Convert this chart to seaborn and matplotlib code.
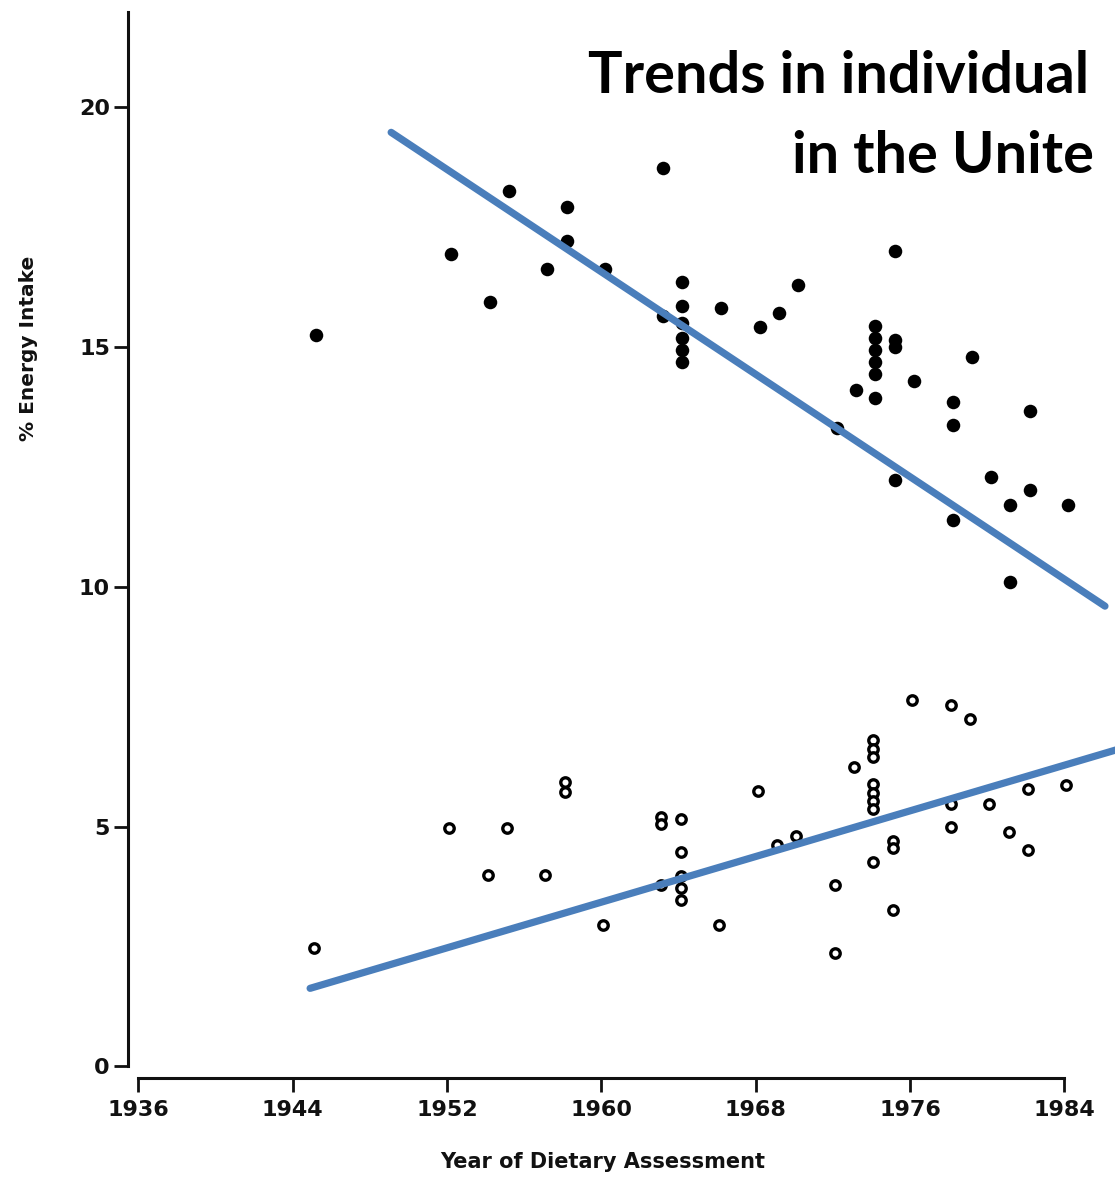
import matplotlib
matplotlib.use("Agg")
import matplotlib.pyplot as plt
import seaborn as sns
import pandas as pd

# ---- data ----
sat_year = [1945.2, 1952.2, 1954.2, 1955.2, 1957.2, 1958.2, 1958.2, 1960.2,
            1963.2, 1963.2,
            1964.2, 1964.2, 1964.2, 1964.2, 1964.2, 1964.2,
            1966.2, 1968.2, 1969.2, 1970.2, 1972.2, 1973.2,
            1974.2, 1974.2, 1974.2, 1974.2, 1974.2, 1974.2,
            1975.2, 1975.2, 1975.2, 1975.2,
            1976.2, 1978.2, 1978.2, 1978.2, 1979.2, 1980.2,
            1981.2, 1981.2, 1982.2, 1982.2, 1984.2]
sat_pct = [15.26, 16.95, 15.95, 18.25, 16.64, 17.93, 17.22, 16.62,
           18.73, 15.64,
           16.35, 15.85, 15.50, 15.20, 14.95, 14.70,
           15.82, 15.43, 15.72, 16.30, 13.32, 14.11,
           15.45, 15.20, 14.95, 14.70, 14.45, 13.95,
           17.01, 15.15, 15.00, 12.23,
           14.30, 13.86, 13.38, 11.40, 14.80, 12.30,
           11.71, 10.10, 13.67, 12.03, 11.71]

poly_year = [1945.1, 1952.1, 1954.1, 1955.1, 1957.1, 1958.1, 1958.1, 1960.1,
             1963.1, 1963.1, 1963.1,
             1964.1, 1964.1, 1964.1, 1964.1, 1964.1,
             1966.1, 1968.1, 1969.1, 1970.1, 1972.1, 1972.1, 1973.1,
             1974.1, 1974.1, 1974.1, 1974.1, 1974.1, 1974.1, 1974.1, 1974.1,
             1975.1, 1975.1, 1975.1,
             1976.1, 1978.1, 1978.1, 1978.1, 1979.1, 1980.1, 1981.1,
             1982.1, 1982.1, 1984.1]
poly_pct = [2.48, 4.97, 3.99, 4.97, 3.99, 5.94, 5.73, 2.96,
            5.20, 5.05, 3.78,
            5.16, 4.47, 3.98, 3.72, 3.47,
            2.96, 5.74, 4.61, 4.80, 3.78, 2.36, 6.24,
            6.80, 6.62, 6.45, 5.89, 5.71, 5.53, 5.36, 4.27,
            4.70, 4.55, 3.26,
            7.64, 7.54, 5.47, 4.99, 7.24, 5.47, 4.89,
            5.79, 4.52, 5.87]

trend_sat_year = [1949.1, 1986.1]
trend_sat_pct = [19.48, 9.60]
trend_poly_year = [1944.9, 1987.5]
trend_poly_pct = [1.63, 6.70]

x_ticks = [1936, 1944, 1952, 1960, 1968, 1976, 1984]
y_ticks = [0, 5, 10, 15, 20]

title_line1 = "Trends in individual"
title_line2 = "in the Unite"

# ---- figure ----
sns.set_theme(style="white")
plt.rcParams['font.family'] = ['DejaVu Sans']

fig = plt.figure(figsize=(11.15, 11.78), dpi=100)
ax = fig.add_axes([128 / 1115, 1 - 1078 / 1178, 987 / 1115, 1078 / 1178])

sat_df = pd.DataFrame({"year": sat_year, "pct": sat_pct})
poly_df = pd.DataFrame({"year": poly_year, "pct": poly_pct})

sns.scatterplot(data=sat_df, x="year", y="pct", ax=ax, color="black",
                s=95, linewidth=0, zorder=3)
sns.scatterplot(data=poly_df, x="year", y="pct", ax=ax, facecolor="white",
                edgecolor="black", s=46, linewidth=2.4, zorder=3)

sns.lineplot(x=trend_sat_year, y=trend_sat_pct, ax=ax, color="#4a7ebb",
             linewidth=5.2, zorder=4)
sns.lineplot(x=trend_poly_year, y=trend_poly_pct, ax=ax, color="#4a7ebb",
             linewidth=5.2, zorder=4)

ax.set_xlim(1935.46, 1986.62)
ax.set_ylim(-0.24, 22.24)

for side in ["top", "right"]:
    ax.spines[side].set_visible(False)
ax.spines["left"].set_bounds(0, 22)
ax.spines["bottom"].set_bounds(1936, 1984)
for side in ["left", "bottom"]:
    ax.spines[side].set_color("#111111")
    ax.spines[side].set_linewidth(2.2)

ax.set_xticks(x_ticks)
ax.set_yticks(y_ticks)
ax.set_xticklabels([str(t) for t in x_ticks])
ax.set_yticklabels([str(t) for t in y_ticks])
ax.tick_params(axis="both", direction="out", length=10, width=2,
               color="#111111", labelsize=16, labelcolor="#111111")
ax.tick_params(axis="x", pad=6, bottom=True)
ax.tick_params(axis="y", pad=3, left=True)
for lab in ax.get_xticklabels() + ax.get_yticklabels():
    lab.set_fontweight("bold")

ax.set_xlabel("Year of Dietary Assessment", fontsize=15, fontweight="bold",
              color="#111111")
ax.set_ylabel("% Energy Intake", fontsize=14.5, fontweight="bold",
              color="#111111")
ax.xaxis.set_label_coords(0.481, -0.069)
ax.yaxis.set_label_coords(-0.091, 0.677)
ax.grid(False)

fig.text(588 / 1115, 1 - 93 / 1178, title_line1, family=["Lato", "DejaVu Sans"],
         fontweight="bold", fontsize=41.5, ha="left", va="baseline", color="black")
fig.text(792 / 1115, 1 - 173 / 1178, title_line2, family=["Lato", "DejaVu Sans"],
         fontweight="bold", fontsize=41.5, ha="left", va="baseline", color="black")

fig.savefig("out.png", dpi=100)
